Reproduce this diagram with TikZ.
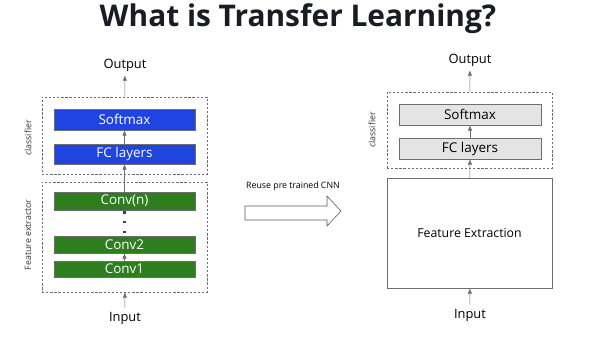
\documentclass[tikz,border=0pt]{standalone}
\usepackage{fontspec}
\setmainfont{Open Sans}
\usepackage{tikz}
\usetikzlibrary{positioning, arrows.meta, calc}
\definecolor{layerblue}{HTML}{1F45E0}
\definecolor{layergreen}{HTML}{2E7D1F}
\definecolor{layergray}{HTML}{E4E4E4}
\definecolor{edgegray}{HTML}{6E6E6E}
\definecolor{titleink}{HTML}{1A1C24}
\tikzset{
    blocklayer/.style={draw=edgegray, fill=layerblue, text=white, minimum width=4.23cm, minimum height=0.63cm, inner sep=0pt, font=\fontsize{11.5}{12}\selectfont},
    convlayer/.style={draw=edgegray, fill=layergreen, text=white, minimum width=4.23cm, inner sep=0pt, font=\fontsize{11.5}{12}\selectfont},
    graylayer/.style={draw=edgegray, fill=layergray, minimum width=4.26cm, minimum height=0.63cm, inner sep=0pt, font=\fontsize{11.5}{12}\selectfont},
    groupbox/.style={draw=edgegray, dash pattern=on 2pt off 1.5pt, minimum width=4.95cm, inner sep=0pt},
    sidelbl/.style={rotate=90, font=\fontsize{7.5}{9}\selectfont, text=black!80},
    iolbl/.style={font=\fontsize{11}{12}\selectfont},
    flow/.style={-{Latex[length=1.6mm,width=1.3mm]}, edgegray},
}
\begin{document}
\begin{tikzpicture}[x=0.03cm, y=-0.03cm,
        dotmark/.style={fill=black!75, inner sep=0pt, minimum size=0.08cm},
    ]
    \useasboundingbox (0,0) rectangle (601,341);
    \node[font=\fontsize{25.5}{30}\selectfont\bfseries, text=titleink] (title) at (298,19) {What is Transfer Learning?};
    % left network
    \node[iolbl] (out1) at (125,65) {Output};
    \node[groupbox, minimum height=2.31cm] (cls1) at (124.5,135.5) {};
    \node[blocklayer] (soft1) at (124.5,119.5) {Softmax};
    \node[blocklayer, minimum height=0.6cm] (fc1) at (124.5,154) {FC layers};
    \node[groupbox, minimum height=3.3cm] (fe1) at (124.5,237) {};
    \node[convlayer, minimum height=0.54cm] (convn) at (124.5,201) {Conv(n)};
    \node[convlayer, minimum height=0.51cm] (conv2) at (124.5,244.5) {Conv2};
    \node[convlayer, minimum height=0.48cm] (conv1) at (124.5,269) {Conv1};
    \node[dotmark] (d1) at (124.5,212.5) {};
    \node[dotmark] (d2) at (124.5,222) {};
    \node[dotmark] (d3) at (124.5,232) {};
    \node[iolbl] (in1) at (125,318) {Input};
    \node[sidelbl] (lcls1) at (28,138) {classifier};
    \node[sidelbl] (lfe1) at (28,235) {Feature extractor};
    \draw[flow] (in1) -- (fe1);
    \draw[flow] (conv1) -- (conv2);
    \draw[flow] (convn) -- (fc1);
    \draw[flow] (fc1) -- (soft1);
    \draw[flow] (cls1) -- (out1);
    % reuse arrow
    \node[font=\fontsize{7.5}{9}\selectfont] (reuse) at (293,186) {Reuse pre trained CNN};
    \draw[black!65, line width=0.5pt, fill=white] (245,206) -- (327,206) -- (327,196) -- (341,211)
        -- (327,226) -- (327,220) -- (245,220) -- cycle;
    % right network
    \node[iolbl] (out2) at (470,60) {Output};
    \node[groupbox, minimum height=2.28cm] (cls2) at (469.5,130) {};
    \node[graylayer] (soft2) at (470,114.5) {Softmax};
    \node[graylayer] (fc2) at (470,148.5) {FC layers};
    \node[draw=edgegray, minimum width=4.95cm, minimum height=3.3cm, inner sep=0pt,
          font=\fontsize{10.5}{12}\selectfont] (fex) at (469.5,233) {Feature Extraction};
    \node[iolbl] (in2) at (470,315) {Input};
    \node[sidelbl] (lcls2) at (372,130) {classifier};
    \draw[flow] (in2) -- (fex);
    \draw[flow] (fex) -- (fc2);
    \draw[flow] (fc2) -- (soft2);
    \draw[flow] (cls2) -- (out2);
\end{tikzpicture}
\end{document}
